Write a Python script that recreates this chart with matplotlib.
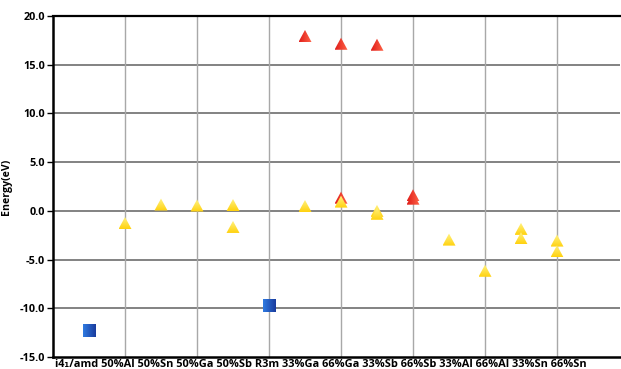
import matplotlib
matplotlib.use("Agg")
import matplotlib.pyplot as plt
import numpy as np
from matplotlib.patches import Polygon
from matplotlib.colors import LinearSegmentedColormap

# structures along the x axis (label row) and point positions
LABELS = ["i4\u2081/amd", "50%Al", "50%Sn", "50%Ga", "50%Sb", "R3m", "33%Ga",
          "66%Ga", "33%Sb", "66%Sb", "33%Al", "66%Al", "33%Sn", "66%Sn"]

# parent phases (squares)
SQ_X = [1, 6]
SQ_Y = [-12.3, -9.75]

# high-energy configurations (red triangles)
RED_X = [7, 8, 9, 8, 10, 10]
RED_Y = [17.9, 17.1, 17.0, 1.3, 1.55, 1.2]

# doped configurations (yellow triangles)
YEL_X = [2, 3, 4, 5, 5, 7, 8, 9, 9, 11, 12, 13, 13, 14, 14]
YEL_Y = [-1.3, 0.6, 0.5, 0.55, -1.7, 0.45, 0.9, -0.05, -0.35, -3.0, -6.2,
         -1.9, -2.85, -3.1, -4.2]

YTICKS = [-15, -10, -5, 0, 5, 10, 15, 20]

plt.rcParams['font.family'] = ['Open Sans', 'DejaVu Sans']
plt.rcParams['font.weight'] = 'bold'

fig = plt.figure(figsize=(6.21, 3.69), dpi=100)
ax = fig.add_axes([53 / 621, 12 / 369, 567 / 621, 341 / 369])
ax.set_xlim(0, 15.75)
ax.set_ylim(-15, 20)

# grid: dark horizontal, light vertical
for yv in YTICKS[1:-1]:
    ax.axhline(yv, color='#606060', lw=1.1, zorder=1)
for xv in range(2, 15, 2):
    ax.axvline(xv, color='#a8a8a8', lw=1.0, zorder=1)
ax.axhline(20, color='black', lw=1.6, zorder=2, clip_on=False)

ax.spines['right'].set_visible(False)
ax.spines['top'].set_visible(False)
ax.spines['left'].set_linewidth(1.8)
ax.spines['bottom'].set_linewidth(1.8)

ax.set_xticks([])
ax.set_yticks(YTICKS)
ax.set_yticklabels(["%.1f" % v for v in YTICKS], fontsize=7.8, fontweight='bold')
ax.tick_params(axis='y', length=4, width=1, pad=2)
ax.set_ylabel("Energy(eV)", fontsize=7.6, fontweight='bold', labelpad=5)

ax.text(0.004, -0.005, " ".join(LABELS), transform=ax.transAxes, ha='left', va='top',
        fontsize=7.9, fontweight='bold')

fig.canvas.draw()


def grad_marker(x, y, kind, colors, horizontal):
    px, py = ax.transData.transform((x, y))
    h = 6.5
    if kind == 'tri':
        verts = [(px, py + h), (px - h, py - h * 0.85), (px + h, py - h * 0.85)]
    else:
        verts = [(px - h, py - h), (px + h, py - h), (px + h, py + h), (px - h, py + h)]
    vd = ax.transData.inverted().transform(verts)
    poly = Polygon(vd, closed=True, facecolor='none', edgecolor='none')
    ax.add_patch(poly)
    cmap = LinearSegmentedColormap.from_list('g', colors)
    g = np.linspace(0, 1, 32)
    img = g[None, :] if horizontal else g[:, None]
    im = ax.imshow(img, cmap=cmap, aspect='auto', interpolation='bilinear', zorder=4,
                   extent=[vd[:, 0].min(), vd[:, 0].max(), vd[:, 1].min(), vd[:, 1].max()],
                   origin='upper')
    im.set_clip_path(poly)


for x, y in zip(SQ_X, SQ_Y):
    grad_marker(x, y, 'sq', ['#2f7ae0', '#1a3c9e'], True)
for x, y in zip(RED_X, RED_Y):
    grad_marker(x, y, 'tri', ['#e01e1a', '#ff6448'], True)
for x, y in zip(YEL_X, YEL_Y):
    grad_marker(x, y, 'tri', ['#fff385', '#ffd20f'], False)

ax.set_xlim(0, 15.75)
ax.set_ylim(-15, 20)

fig.savefig("out.png", dpi=100)
